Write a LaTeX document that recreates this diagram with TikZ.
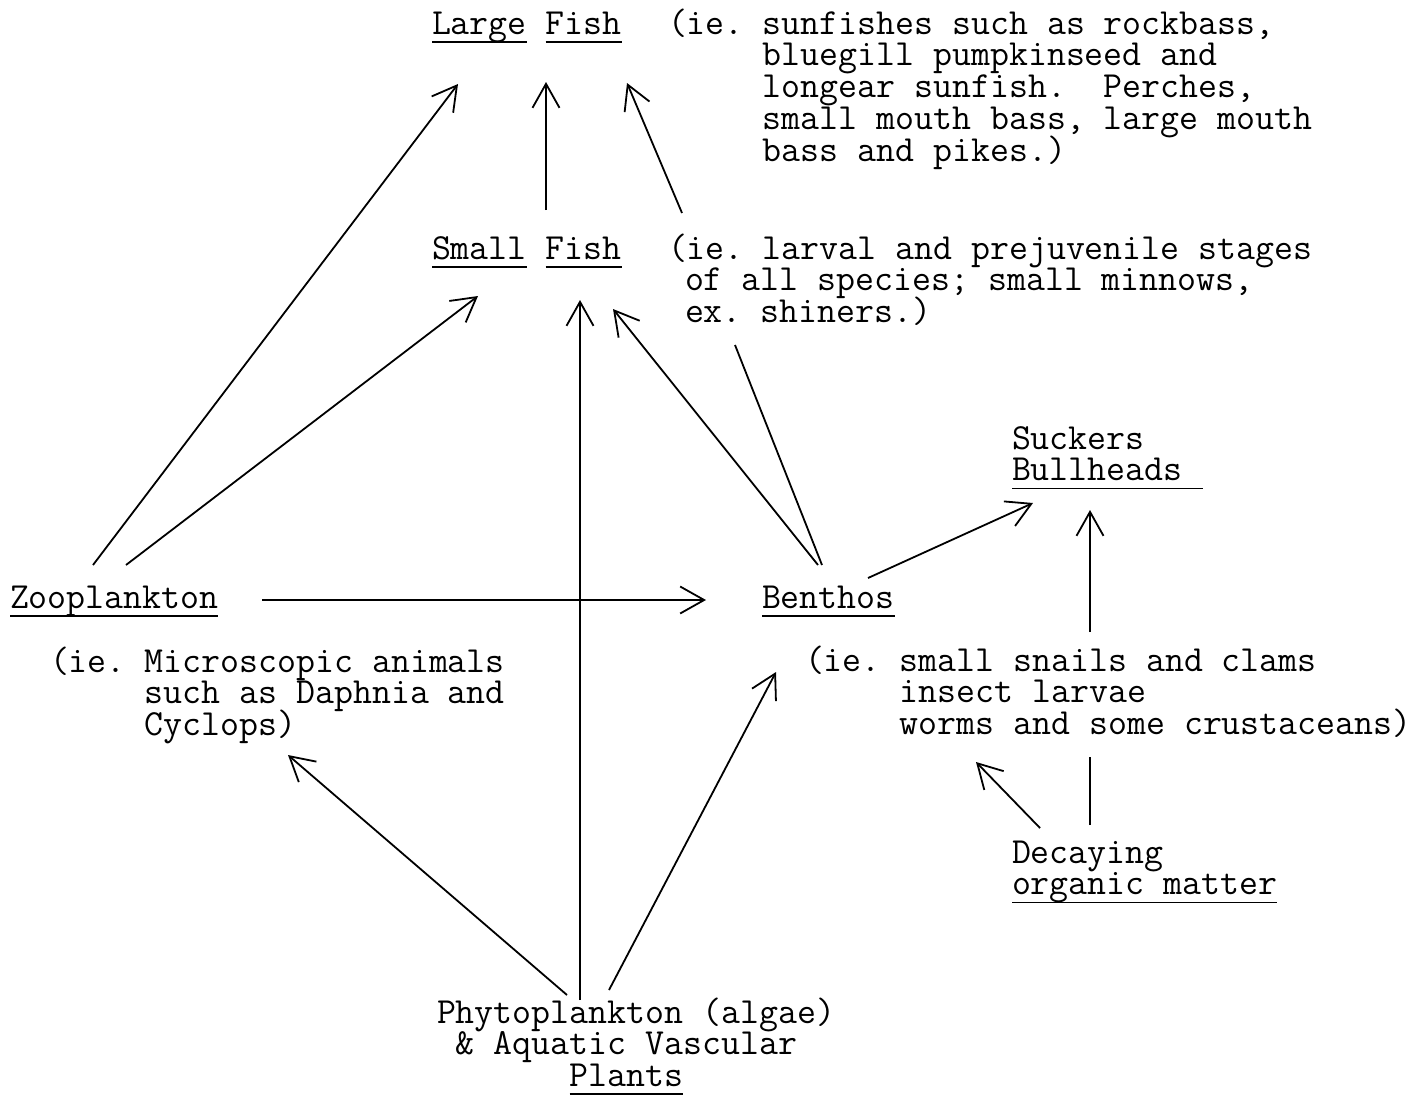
\documentclass[tikz,border=0pt]{standalone}
\usetikzlibrary{arrows.meta}
\newcommand\ul[1]{\setbox0=\hbox{#1}\rlap{\rule[-8.5pt]{\wd0}{1.8pt}}\box0\relax}
\newcommand\ulx[2]{\rlap{\rule[-8.5pt]{#1}{1.8pt}}#2}
\newcommand\stk[1]{\vtop{\baselineskip=31.8pt\lineskiplimit=-\maxdimen\lineskip=0pt\halign{##\hfil\cr#1\crcr}}}
\tikzset{
  txt/.style={anchor=base west, inner sep=0pt, outer sep=0pt,
    font=\ttfamily\fontsize{36.8}{31.8}\selectfont\frenchspacing},
  arr/.style={line width=1.8pt, -{Straight Barb[length=24pt, width=27pt, line width=1.8pt]}},
  seg/.style={line width=1.8pt}
}
\begin{document}
\begin{tikzpicture}[x=1pt,y=-1pt]
\useasboundingbox (0,0) rectangle (1426,1095);
\fill[white] (0,0) rectangle (1426,1095);

% nodes
\node[txt] (lf) at (432,34) {\ul{Large} \ul{Fish}};
\node[txt] (lfd) at (668,34) {\stk{(ie. sunfishes such as rockbass,\cr
 \hphantom{xxxxx}bluegill pumpkinseed and\cr
 \hphantom{xxxxx}longear sunfish.\ \ Perches,\cr
 \hphantom{xxxxx}small mouth bass, large mouth\cr
 \hphantom{xxxxx}bass and pikes.)}};
\node[txt] (sf) at (432,259) {\ul{Small} \ul{Fish}};
\node[txt] (sfd) at (668,259) {\stk{(ie. larval and prejuvenile stages\cr
 \hspace*{17pt}of all species; small minnows,\cr
 \hspace*{17pt}ex. shiners.)}};
\node[txt] (sk) at (1012,449) {\stk{Suckers\cr \ulx{191pt}{Bullheads}}};
\node[txt] (zp) at (10,608) {\ul{Zooplankton}};
\node[txt] (zpd) at (50,672) {\stk{(ie. Microscopic animals\cr
 \hphantom{xxxxx}such as Daphnia and\cr
 \hphantom{xxxxx}Cyclops)}};
\node[txt] (bn) at (762,608) {\ul{Benthos}};
\node[txt] (bnd) at (805,671) {\stk{(ie. small snails and clams\cr
 \hphantom{xxxxx}insect larvae\cr
 \hphantom{xxxxx}worms and some crustaceans)}};
\node[txt] (dc) at (1012,863) {\stk{Decaying\cr \ul{organic matter}}};
\node[txt] (ph) at (437,1023) {\stk{Phytoplankton (algae)\cr
 \hphantom{x}\&~Aquatic Vascular\cr
 \hphantom{xxxxxxx}\ul{Plants}}};

% connector end points
\coordinate (zpA) at (93,565);   \coordinate (lfA) at (458,84);
\coordinate (zpB) at (126,565);  \coordinate (sfB) at (478,296);
\coordinate (sfC) at (546,210);  \coordinate (lfC) at (546,82);
\coordinate (bnD) at (822,565);  \coordinate (gD1) at (735,345);
\coordinate (gD2) at (682,213);  \coordinate (lfD) at (627,83);
\coordinate (phE) at (580,1000); \coordinate (sfE) at (580,300);
\coordinate (bnF) at (818,565);  \coordinate (sfF) at (613,309);
\coordinate (zpG) at (262,600);  \coordinate (bnG) at (706,600);
\coordinate (bnH) at (868,578);  \coordinate (skH) at (1033,503);
\coordinate (dcI) at (1090,825); \coordinate (gI1) at (1090,757);
\coordinate (gI2) at (1090,632); \coordinate (skI) at (1090,510);
\coordinate (dcJ) at (1040,828); \coordinate (bnJ) at (976,762);
\coordinate (phK) at (567,995);  \coordinate (zpK) at (288,755);
\coordinate (phL) at (609,990);  \coordinate (bnL) at (776,672);

% connectors
\draw[arr] (zpA) -- (lfA);
\draw[arr] (zpB) -- (sfB);
\draw[arr] (sfC) -- (lfC);
\draw[seg] (bnD) -- (gD1);
\draw[arr] (gD2) -- (lfD);
\draw[arr] (phE) -- (sfE);
\draw[arr] (bnF) -- (sfF);
\draw[arr] (zpG) -- (bnG);
\draw[arr] (bnH) -- (skH);
\draw[seg] (dcI) -- (gI1);
\draw[arr] (gI2) -- (skI);
\draw[arr] (dcJ) -- (bnJ);
\draw[arr] (phK) -- (zpK);
\draw[arr] (phL) -- (bnL);
\end{tikzpicture}
\end{document}
